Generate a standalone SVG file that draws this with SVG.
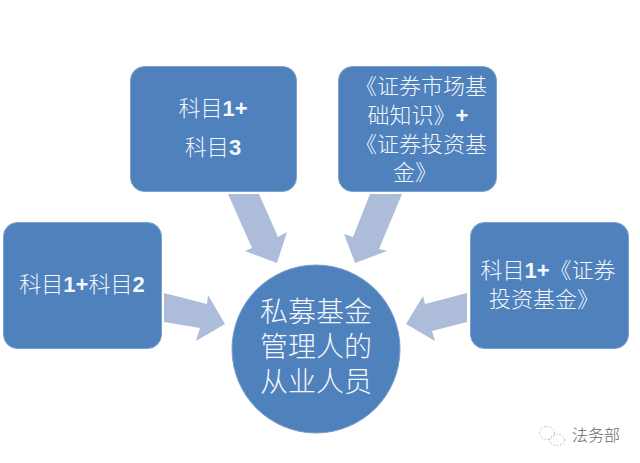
<svg xmlns="http://www.w3.org/2000/svg" width="640" height="463" viewBox="0 0 640 463">
<style>
.n{fill:#4f81bd;stroke:#7ba0cd;stroke-width:1}
.a{fill:#adbdd9}
text{font-family:"Noto Sans CJK SC","Liberation Sans",sans-serif;fill:#f4f7fb;text-anchor:middle;font-weight:300}
.d{font-family:"Liberation Sans",sans-serif;font-weight:700}
.s{font-size:22px}
.b{font-size:28px}
.w{font-size:16px;fill:#666}
.i{fill:none;stroke:#999;stroke-width:1;stroke-dasharray:1 2}
</style>
<rect width="640" height="463" fill="#fff"/>
<g id="connectors">
<polygon class="a" points="228,194 259,194 278,237 287,232 277,263 245,251 252,248"/>
<polygon class="a" points="370,194 402,194 379,249 387,251 355,263 344,234 353,237"/>
<polygon class="a" points="164,293 207,304 208,295 225,324 196,341 200,328 164,322"/>
<polygon class="a" points="467,293 467,322 432,331 435,341 406,324 423,296 425,304"/>
</g>
<g id="node-top-left">
<rect class="n" x="130.500" y="66.500" width="166" height="125" rx="14"/>
<text class="s" x="213" y="116">科目<tspan class="d">1+</tspan></text>
<text class="s" x="213" y="155">科目<tspan class="d">3</tspan></text>
</g>
<g id="node-top-right">
<rect class="n" x="338.500" y="66.500" width="158" height="125" rx="14"/>
<text class="s" x="421" y="94">《证券市场基</text>
<text class="s" x="418" y="123">础知识》<tspan class="d">+</tspan></text>
<text class="s" x="421" y="152">《证券投资基</text>
<text class="s" x="415" y="180">金》</text>
</g>
<g id="node-left">
<rect class="n" x="3.500" y="222.500" width="158" height="126" rx="14"/>
<text class="s" x="82" y="292">科目<tspan class="d">1+</tspan>科目<tspan class="d">2</tspan></text>
</g>
<g id="node-right">
<rect class="n" x="470.500" y="222.500" width="158" height="126" rx="14"/>
<text class="s" x="548" y="278">科目<tspan class="d">1+</tspan>《证券</text>
<text class="s" x="544" y="307">投资基金》</text>
</g>
<g id="node-center">
<circle class="n" cx="316" cy="349" r="84"/>
<text class="b" x="316" y="322">私募基金</text>
<text class="b" x="316" y="357">管理人的</text>
<text class="b" x="316" y="392">从业人员</text>
</g>
<g id="watermark">
<ellipse class="i" cx="547" cy="433" rx="7.500" ry="6.500"/>
<ellipse class="i" cx="557" cy="440" rx="7.500" ry="5.500"/>
<text class="w" x="596" y="441">法务部</text>
</g>
</svg>
